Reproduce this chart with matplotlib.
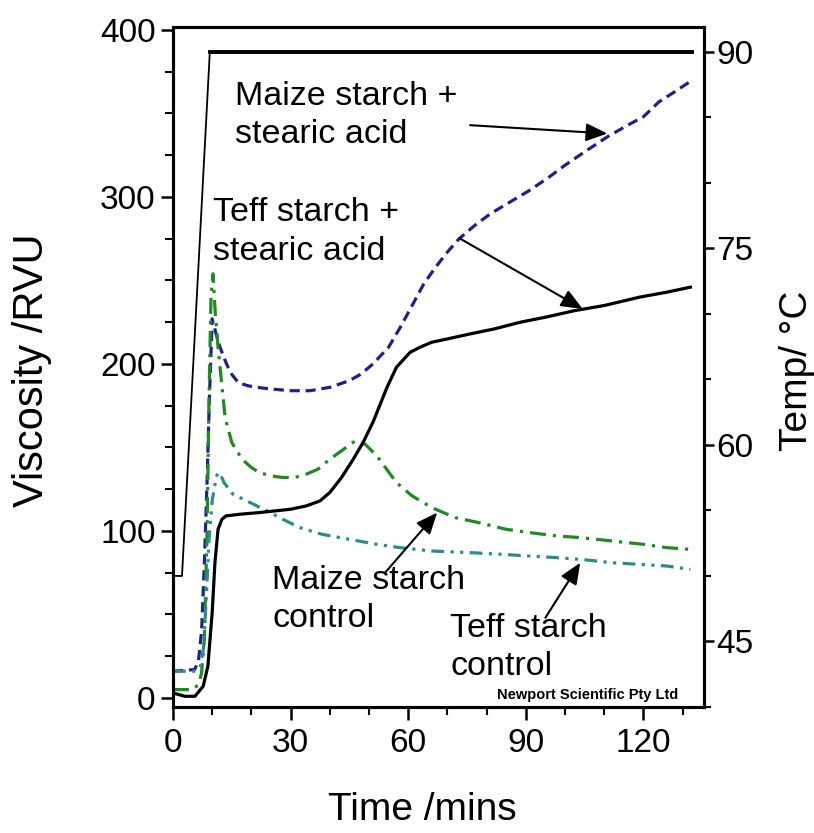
import matplotlib
matplotlib.use("Agg")
import matplotlib.pyplot as plt
from matplotlib.ticker import MultipleLocator

plt.rcParams['font.family'] = ['Liberation Sans', 'DejaVu Sans']

# Teff starch + stearic acid (black solid)
teff_sa_t = [0, 3, 5.6, 7.7, 8.9, 10, 10.7, 11.5, 12.5, 13.5, 17, 22, 26, 30, 34,
             37.5, 40, 43, 46, 48.5, 51, 54.6, 57, 60.5, 63, 66, 70, 75.8, 82,
             88.6, 95, 102.6, 110, 119, 126, 132]
teff_sa_v = [3, 1, 1, 7, 19, 51, 81, 101, 107, 109, 110, 111, 112, 113, 115,
             118, 123, 132, 143, 153, 165, 186, 198, 207, 210, 213, 215, 218, 221,
             225, 228, 232, 235, 240, 243, 246]

# Maize starch + stearic acid (blue dashed)
maize_sa_t = [0, 5.5, 6.5, 7.3, 8, 8.7, 9.3, 10, 11, 12, 13.5, 14.6, 16.6, 19, 21.4,
              25, 30, 35, 40, 45, 48, 51, 55, 58, 61, 64, 67, 70, 73, 77, 81, 86,
              91, 96, 100, 105, 110.8, 116, 120, 124, 128, 132.5]
maize_sa_v = [16, 17, 22, 40, 80, 130, 180, 227, 218, 210, 201, 195, 189, 187, 186,
              185, 184, 184, 186, 190, 194, 200, 210, 222, 235, 248, 258, 267, 275,
              283, 290, 297, 304, 312, 319, 327, 336, 343, 348, 357, 363, 370]

# Maize starch control (green dash-dot)
maize_ctrl_t = [0, 5, 6.5, 7.3, 8, 8.7, 9.2, 9.7, 10.2, 10.8, 11.5, 12, 13.3, 15,
                17.6, 20, 22, 25, 28, 31, 34, 37, 40, 43, 46.5, 49, 52, 57, 61, 66,
                72, 78, 85, 91, 98, 104, 112, 120, 126, 132]
maize_ctrl_v = [5, 5, 8, 15, 35, 100, 180, 240, 254, 230, 210, 198, 168, 153,
                143, 138, 135, 133, 132, 132, 134, 137, 143, 148, 154, 152, 145, 129,
                121, 114, 108, 105, 101, 99, 97, 96, 94, 92, 90, 89]

# Teff starch control (teal dash-dot-dot)
teff_ctrl_t = [0, 6, 7, 7.8, 8.5, 9.2, 10, 11, 11.5, 12.3, 13, 15.3, 19.7, 24.8, 28,
               32.4, 38, 45, 52, 58, 66, 76, 84, 91, 98, 104, 112, 119, 126, 132]
teff_ctrl_v = [16, 16, 19, 30, 60, 95, 118, 132, 135, 133, 129, 122, 117, 111, 107,
               102, 98, 95, 92, 90, 88, 87, 86, 85, 84, 83, 81, 80, 79, 77]

# Temperature profile
temp_t = [0, 2.3, 9.4, 132.5]
temp_c = [50, 50, 90, 90]

fig = plt.figure(figsize=(8.14, 8.33), dpi=100)
ax = fig.add_axes([0.2125, 0.1513, 0.6525, 0.8163])
ax2 = ax.twinx()

ax.plot(maize_sa_t, maize_sa_v, color='#1f1f8f', lw=2.3, dashes=(3.2, 1.8))
ax.plot(maize_ctrl_t, maize_ctrl_v, color='#1f8a1f', lw=2.3,
        dashes=(5, 2.2, 1, 2.2))
ax.plot(teff_ctrl_t, teff_ctrl_v, color='#2a8c8c', lw=2.3,
        dashes=(4, 2, 1, 2, 1, 2))
ax.plot(teff_sa_t, teff_sa_v, color='black', lw=2.3)

ax2.plot(temp_t[:3], temp_c[:3], color='black', lw=1.3)
ax2.plot(temp_t[2:], temp_c[2:], color='black', lw=2.8)

ax.set_xlim(0, 135.5)
ax.set_ylim(-5.4, 401.8)
ax2.set_ylim(40, 91.9)

ax.xaxis.set_major_locator(MultipleLocator(30))
ax.xaxis.set_minor_locator(MultipleLocator(10))
ax.yaxis.set_major_locator(MultipleLocator(100))
ax.yaxis.set_minor_locator(MultipleLocator(25))
ax2.yaxis.set_minor_locator(MultipleLocator(5))
ax2.set_yticks([45, 60, 75, 90])

for a in (ax, ax2):
    a.tick_params(which='major', length=9, width=1.8, labelsize=24, direction='out')
    a.tick_params(which='minor', length=6, width=1.5, direction='out')
    for s in a.spines.values():
        s.set_linewidth(2.2)
ax.tick_params(axis='x', pad=6)
ax2.tick_params(which='major', length=7, pad=2)
ax2.tick_params(which='minor', length=5)

ax.set_xlabel('Time /mins', fontsize=28)
ax.set_ylabel('Viscosity /RVU', fontsize=30)
ax2.set_ylabel('Temp/ °C', fontsize=28)
ax.xaxis.label.set_va('center')
ax.yaxis.label.set_va('center')
ax2.yaxis.label.set_va('center')
ax.xaxis.set_label_coords(0.47, -0.151)
ax.yaxis.set_label_coords(-0.266, 0.495)
ax2.yaxis.set_label_coords(1.175, 0.495)

tsize = 24.5
ax.text(15.8, 349, 'Maize starch +\nstearic acid', fontsize=tsize,
        va='center', ha='left', linespacing=1.3)
ax.text(10.2, 279, 'Teff starch +\nstearic acid', fontsize=tsize,
        va='center', ha='left', linespacing=1.3)
ax.text(25.3, 59, 'Maize starch\ncontrol', fontsize=tsize,
        va='center', ha='left', linespacing=1.3)
ax.text(70.7, 30, 'Teff starch\ncontrol', fontsize=tsize,
        va='center', ha='left', linespacing=1.3)
ax.text(105.7, -2.5, 'Newport Scientific Pty Ltd', fontsize=10.5, fontweight='bold',
        ha='center', va='bottom')

arrow = dict(arrowstyle='-|>,head_length=1.3,head_width=0.55', color='black',
             lw=1.5, shrinkA=0, shrinkB=0)
ax.annotate('', xy=(110.8, 338), xytext=(75.8, 343), arrowprops=arrow)
ax.annotate('', xy=(104.5, 233), xytext=(73.3, 275), arrowprops=arrow)
ax.annotate('', xy=(67.4, 111), xytext=(54.1, 75), arrowprops=arrow)
ax.annotate('', xy=(103.9, 81), xytext=(95, 48), arrowprops=arrow)

fig.savefig('out.png', dpi=100)
